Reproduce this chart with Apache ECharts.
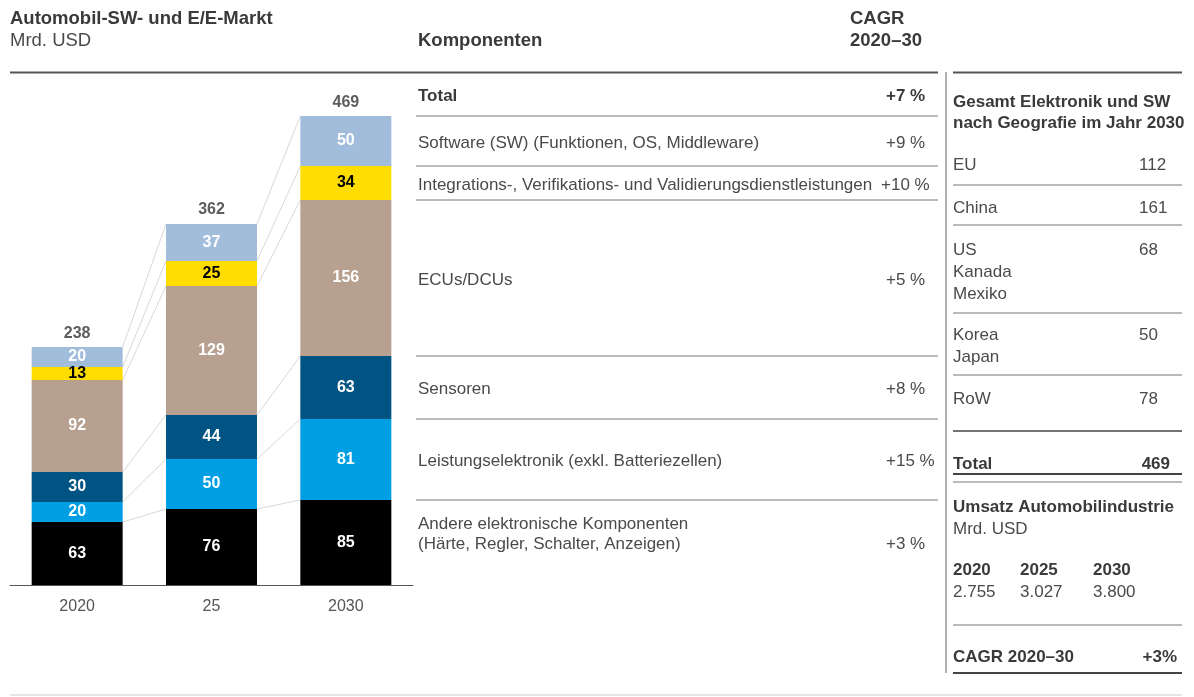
<!DOCTYPE html>
<html>
<head>
<meta charset="UTF-8">
<script src="https://cdn.jsdelivr.net/npm/echarts@6/dist/echarts.min.js"></script>
<style>
  html, body { margin: 0; padding: 0; background: #fff; }
  #main { width: 1194px; height: 697px; }
</style>
</head>
<body>
<div id="main"></div>
<script>
// categories
var years = ['2020', '25', '2030'];
// segments, bottom to top (Mrd. USD)
var andere = [63, 76, 85];
var leistung = [20, 50, 81];
var sensoren = [30, 44, 63];
var ecus = [92, 129, 156];
var integration = [13, 25, 34];
var software = [20, 37, 50];
var totals = [238, 362, 469];

var segNames = ['Andere elektronische Komponenten\n(Härte, Regler, Schalter, Anzeigen)',
  'Leistungselektronik (exkl. Batteriezellen)', 'Sensoren', 'ECUs/DCUs',
  'Integrations-, Verifikations- und Validierungsdienstleistungen',
  'Software (SW) (Funktionen, OS, Middleware)'];
var segCagr = ['+3 %', '+15 %', '+8 %', '+5 %', '+10 %', '+9 %'];
var segColors = ['#000000', '#009fe3', '#005483', '#b8a091', '#ffdd00', '#a2bddb'];
var segLabelColors = ['#fff', '#fff', '#fff', '#fff', '#000', '#fff'];

var regions = ['EU', 'China', 'US\nKanada\nMexiko', 'Korea\nJapan', 'RoW'];
var regionValues = ['112', '161', '68', '50', '78'];
var revYears = ['2020', '2025', '2030'];
var revValues = ['2.755', '3.027', '3.800'];

var FONT = '"Liberation Sans", Arial, sans-serif';
var BAR_W = 91;
var segData = [andere, leistung, sensoren, ecus, integration, software];

// cumulative tops for connectors
var cum = [];
var run = [0, 0, 0];
segData.forEach(function (s) {
  run = run.map(function (v, i) { return v + s[i]; });
  cum.push(run.slice());
});
var connData = [];
cum.forEach(function (c) {
  for (var i = 0; i < 2; i++) connData.push([i, c[i], c[i + 1]]);
});

var series = segData.map(function (d, k) {
  return {
    type: 'bar', stack: 'all', data: d, barWidth: BAR_W, z: 3,
    itemStyle: { color: segColors[k] },
    label: { show: true, position: 'inside', color: segLabelColors[k],
      fontFamily: FONT, fontWeight: 'bold', fontSize: 16 }
  };
});
series.push({
  type: 'scatter', data: totals, symbolSize: 1, itemStyle: { color: 'rgba(0,0,0,0)' },
  label: { show: true, position: 'top', distance: 5, color: '#333',
    fontFamily: FONT, fontWeight: 'bold', fontSize: 16 }
});
series.push({
  type: 'custom', data: connData, z: 1, encode: { x: 0, y: [1, 2] },
  renderItem: function (params, api) {
    var i = api.value(0);
    var a = api.coord([i, api.value(1)]);
    var b = api.coord([i + 1, api.value(2)]);
    return { type: 'line',
      shape: { x1: a[0] + BAR_W / 2, y1: a[1], x2: b[0] - BAR_W / 2, y2: b[1] },
      style: { stroke: '#d8d8d8', lineWidth: 1 } };
  }
});

var chart = echarts.init(document.getElementById('main'));
chart.setOption({
  animation: false,
  grid: { left: 10, right: 781, top: 10, bottom: 112 },
  xAxis: { type: 'category', data: years,
    axisLine: { lineStyle: { color: '#555', width: 1 } }, axisTick: { show: false },
    axisLabel: { color: '#555', fontFamily: FONT, fontSize: 16, margin: 14 } },
  yAxis: { type: 'value', min: 0, max: 575, show: false, splitLine: { show: false } },
  series: series
});

// table graphics
var g = [];
function txt(x, y, s, opt) {
  opt = opt || {};
  g.push({ type: 'text', x: x, y: y + 2, silent: true, style: {
    text: s, fill: opt.color || '#4a4a4a', font: (opt.bold ? 'bold ' : '') + (opt.size || 17) + 'px ' + FONT,
    textAlign: opt.align || 'left', textVerticalAlign: 'middle', lineHeight: opt.lh || 20 } });
}
function hline(x1, x2, y, color, w) {
  g.push({ type: 'line', silent: true, shape: { x1: x1, y1: y, x2: x2, y2: y },
    style: { stroke: color || '#666', lineWidth: w || 1 } });
}
var H = { bold: true, size: 18.5, color: '#3a3a3a' };
var B = { bold: true, color: '#3a3a3a' };

// header
txt(10, 17, 'Automobil-SW- und E/E-Markt', H);
txt(10, 39, 'Mrd. USD', { size: 18.5 });
txt(418, 39, 'Komponenten', H);
txt(850, 17, 'CAGR', H);
txt(850, 39, '2020–30', H);
hline(10, 938, 72.5, '#555', 2);

// middle table rows aligned to 2030 segments
var yTop = chart.convertToPixel({ gridIndex: 0 }, [2, totals[2]])[1];
hline(416, 938, yTop, '#777', 1);
txt(418, (72 + yTop) / 2, 'Total', B);
txt(886, (72 + yTop) / 2, '+7 %', B);
for (var k = 5; k >= 0; k--) {
  var hiY = chart.convertToPixel({ gridIndex: 0 }, [2, cum[k][2]])[1];
  var loY = chart.convertToPixel({ gridIndex: 0 }, [2, k > 0 ? cum[k - 1][2] : 0])[1];
  if (k < 5) hline(416, 938, hiY, '#777', 1);
  var cy = (hiY + loY) / 2;
  var lines = segNames[k].split('\n');
  txt(418, cy - (lines.length - 1) * 10, segNames[k], { lh: 20 });
  txt(k === 4 ? 881 : 886, cy, segCagr[k]);
}

// vertical divider
g.push({ type: 'line', silent: true, shape: { x1: 946, y1: 72, x2: 946, y2: 673 },
  style: { stroke: '#999', lineWidth: 1.5 } });

// right panel
var RX = 953, RX2 = 1182;
hline(RX, RX2, 72.5, '#555', 2);
txt(RX, 100, 'Gesamt Elektronik und SW', B);
txt(RX, 121, 'nach Geografie im Jahr 2030', B);
var rowY = [163, 206, 248, 333, 397];
var rowLines = [185, 225, 313, 375, 431];
regions.forEach(function (r, i) {
  r.split('\n').forEach(function (l, j) { txt(RX, rowY[i] + j * 22, l); });
  txt(1139, rowY[i], regionValues[i]);
  hline(RX, RX2, rowLines[i], i === 4 ? '#444' : '#777', i === 4 ? 1.5 : 1);
});
txt(RX, 462, 'Total', B);
txt(1170, 462, '469', { bold: true, color: '#3a3a3a', align: 'right' });
hline(RX, RX2, 474, '#444', 2);
hline(RX, RX2, 482, '#777', 1);
txt(RX, 505, 'Umsatz Automobilindustrie', B);
txt(RX, 527, 'Mrd. USD');
var revX = [953, 1020, 1093];
revYears.forEach(function (y, i) {
  txt(revX[i], 568, y, B);
  txt(revX[i], 590, revValues[i]);
});
hline(RX, RX2, 625, '#777', 1);
txt(RX, 655, 'CAGR 2020–30', B);
txt(1177, 655, '+3%', { bold: true, color: '#3a3a3a', align: 'right' });
hline(RX, RX2, 673, '#444', 2);

// bottom rule
hline(10, 1182, 695, '#ccc', 1);

chart.setOption({ graphic: g });
</script>
</body>
</html>
